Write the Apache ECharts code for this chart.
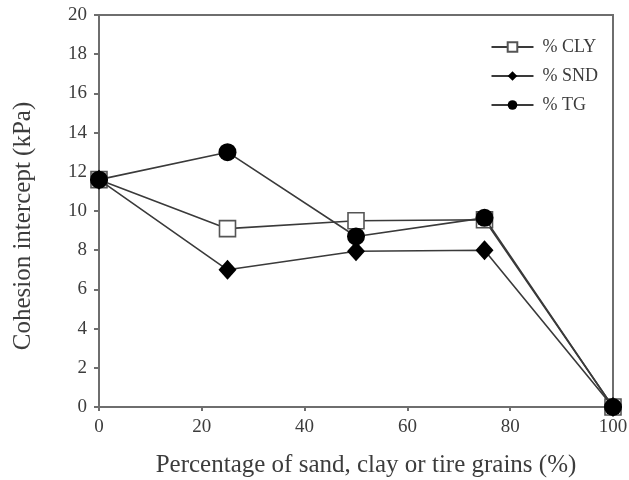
<!DOCTYPE html>
<html>
<head>
<meta charset="utf-8">
<script src="https://cdn.jsdelivr.net/npm/echarts@6/dist/echarts.min.js"></script>
<style>
  html, body { margin: 0; padding: 0; background: #fff; }
  #chart { width: 629px; height: 480px; }
</style>
</head>
<body>
<div id="chart"></div>
<script>
// Percentage of added material (%)
const percentages = [0, 25, 50, 75, 100];
// Cohesion intercept (kPa) for each mixture
const clyValues = [11.6, 9.1, 9.5, 9.55, 0];
const sndValues = [11.6, 7.0, 7.95, 8.0, 0];
const tgValues = [11.6, 13.0, 8.7, 9.65, 0];

const seriesNames = ['% CLY', '% SND', '% TG'];
const yTicks = [0, 2, 4, 6, 8, 10, 12, 14, 16, 18, 20];
const xTicks = [0, 20, 40, 60, 80, 100];

const font = '"Liberation Serif", "Times New Roman", serif';
const lineColor = '#3a3a3a';
const axisColor = '#6e6e6e';
const textColor = '#3c3c3c';

function pairs(vals) {
  return percentages.map((p, i) => [p, vals[i]]);
}

const chart = echarts.init(document.getElementById('chart'), null, { renderer: 'canvas' });

chart.setOption({
  animation: false,
  backgroundColor: '#ffffff',
  grid: {
    left: 99, right: 16, top: 15, bottom: 73,
    outerBoundsMode: 'none', containLabel: false,
    show: true, borderColor: axisColor, borderWidth: 2, backgroundColor: 'transparent'
  },
  legend: {
    right: 26, top: 33, orient: 'vertical',
    itemWidth: 42, itemHeight: 12, itemGap: 11,
    textStyle: { fontFamily: font, fontSize: 18, color: textColor, padding: [0, 0, 0, 4] },
    data: seriesNames
  },
  xAxis: {
    type: 'value', min: xTicks[0], max: xTicks[xTicks.length - 1], interval: 20,
    name: 'Percentage of sand, clay or tire grains (%)',
    nameLocation: 'middle', nameGap: 46,
    nameTextStyle: { fontFamily: font, fontSize: 25, color: textColor, padding: [0, 0, 0, 20] },
    axisLine: { lineStyle: { color: axisColor, width: 2 } },
    axisTick: { show: true, length: 4, lineStyle: { color: axisColor, width: 2 } },
    axisLabel: { fontFamily: font, fontSize: 19, color: textColor, margin: 11 },
    splitLine: { show: false }
  },
  yAxis: {
    type: 'value', min: yTicks[0], max: yTicks[yTicks.length - 1], interval: 2,
    name: 'Cohesion intercept (kPa)',
    nameLocation: 'middle', nameGap: 63,
    nameTextStyle: { fontFamily: font, fontSize: 25, color: textColor, padding: [0, 30, 0, 0] },
    axisLine: { lineStyle: { color: axisColor, width: 2 } },
    axisTick: { show: true, length: 5, lineStyle: { color: axisColor, width: 2 } },
    axisLabel: { fontFamily: font, fontSize: 19, color: textColor, margin: 12 },
    splitLine: { show: false }
  },
  series: [
    {
      name: seriesNames[0], type: 'line', data: pairs(clyValues),
      symbol: 'rect', symbolSize: 16, z: 3,
      lineStyle: { color: lineColor, width: 1.6 },
      itemStyle: { color: '#ffffff', borderColor: '#555', borderWidth: 1.6 }
    },
    {
      name: seriesNames[1], type: 'line', data: pairs(sndValues),
      symbol: 'diamond', symbolSize: [18, 20], z: 4,
      lineStyle: { color: lineColor, width: 1.6 },
      itemStyle: { color: '#000000', borderWidth: 0 }
    },
    {
      name: seriesNames[2], type: 'line', data: pairs(tgValues),
      symbol: 'circle', symbolSize: 18, z: 5,
      lineStyle: { color: lineColor, width: 1.6 },
      itemStyle: { color: '#000000', borderWidth: 0 }
    }
  ]
});
</script>
</body>
</html>
